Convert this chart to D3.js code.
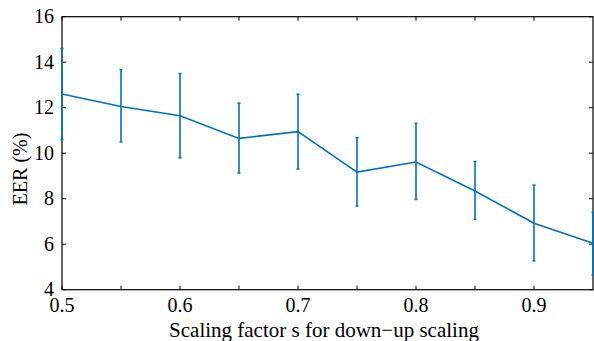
<!DOCTYPE html>
<html>
<head>
<meta charset="utf-8">
<script src="https://cdn.jsdelivr.net/npm/d3@7"></script>
<style>
  body { margin: 0; background: #fff; }
  text { font-family: "Liberation Serif", "Times New Roman", serif; fill: #000; }
</style>
</head>
<body>
<svg id="chart" width="594" height="341"></svg>
<script>
// data
var scales = [0.5, 0.55, 0.6, 0.65, 0.7, 0.75, 0.8, 0.85, 0.9, 0.95];
var eer    = [12.6, 12.05, 11.65, 10.65, 10.95, 9.17, 9.61, 8.34, 6.92, 6.04];
var eerLo  = [10.6, 10.5, 9.8, 9.13, 9.31, 7.68, 7.97, 7.09, 5.27, 4.65];
var eerHi  = [14.6, 13.67, 13.5, 12.2, 12.59, 10.68, 11.31, 9.63, 8.6, 7.4];
var xTicks = [0.5, 0.6, 0.7, 0.8, 0.9];
var xMinor = [0.55, 0.65, 0.75, 0.85];
var yTicks = [4, 6, 8, 10, 12, 14, 16];

var svg = d3.select('#chart');
var pLeft = 62, pRight = 593, pTop = 16.7, pBottom = 289.7;
var blue = '#0072BD';

var x = d3.scaleLinear().domain([0.5, 0.95]).range([pLeft, pRight]);
var y = d3.scaleLinear().domain([4, 16]).range([pBottom, pTop]);

// box
svg.append('rect')
  .attr('x', pLeft).attr('y', pTop)
  .attr('width', pRight - pLeft).attr('height', pBottom - pTop)
  .style('fill', 'none').attr('stroke', '#000').attr('stroke-width', 1.2);

// ticks (inward, all four sides)
var allX = xTicks.concat(xMinor);
var tl = 4;
svg.selectAll('.xtb').data(allX).enter().append('line')
  .attr('x1', function(d){ return x(d); }).attr('x2', function(d){ return x(d); })
  .attr('y1', pBottom).attr('y2', pBottom - tl)
  .attr('stroke', '#000').attr('stroke-width', 1);
svg.selectAll('.xtt').data(allX).enter().append('line')
  .attr('x1', function(d){ return x(d); }).attr('x2', function(d){ return x(d); })
  .attr('y1', pTop).attr('y2', pTop + tl)
  .attr('stroke', '#000').attr('stroke-width', 1);
svg.selectAll('.ytl').data(yTicks).enter().append('line')
  .attr('x1', pLeft).attr('x2', pLeft + tl)
  .attr('y1', function(d){ return y(d); }).attr('y2', function(d){ return y(d); })
  .attr('stroke', '#000').attr('stroke-width', 1);
svg.selectAll('.ytr').data(yTicks).enter().append('line')
  .attr('x1', pRight).attr('x2', pRight - tl)
  .attr('y1', function(d){ return y(d); }).attr('y2', function(d){ return y(d); })
  .attr('stroke', '#000').attr('stroke-width', 1);

// tick labels
svg.selectAll('.xl').data(xTicks).enter().append('text')
  .attr('x', function(d){ return x(d); })
  .attr('y', 312)
  .style('text-anchor', 'middle')
  .style('font-size', '20px')
  .text(function(d){ return d3.format('.1f')(d); });
svg.selectAll('.yl').data(yTicks).enter().append('text')
  .attr('x', 54)
  .attr('y', function(d){ return y(d) + 6.5; })
  .style('text-anchor', 'end')
  .style('font-size', '20px')
  .text(function(d){ return d; });

// axis titles
svg.append('text')
  .attr('x', 324).attr('y', 337)
  .style('text-anchor', 'middle')
  .style('font-size', '21px')
  .text('Scaling factor s for down\u2212up scaling');
svg.append('text')
  .attr('transform', 'translate(27,169) rotate(-90)')
  .style('text-anchor', 'middle')
  .style('font-size', '20px')
  .text('EER (%)');

// error bars
var idx = d3.range(scales.length);
svg.selectAll('.eb').data(idx).enter().append('line')
  .attr('x1', function(i){ return x(scales[i]); }).attr('x2', function(i){ return x(scales[i]); })
  .attr('y1', function(i){ return y(eerLo[i]); }).attr('y2', function(i){ return y(eerHi[i]); })
  .attr('stroke', blue).attr('stroke-width', 1.6);
[eerLo, eerHi].forEach(function(arr) {
  svg.selectAll(null).data(idx).enter().append('line')
    .attr('x1', function(i){ return x(scales[i]) - 1.5; }).attr('x2', function(i){ return x(scales[i]) + 1.5; })
    .attr('y1', function(i){ return y(arr[i]); }).attr('y2', function(i){ return y(arr[i]); })
    .attr('stroke', blue).attr('stroke-width', 1.6);
});

// mean line
var line = d3.line()
  .x(function(i){ return x(scales[i]); })
  .y(function(i){ return y(eer[i]); });
svg.append('path')
  .datum(idx)
  .attr('d', line)
  .style('fill', 'none')
  .attr('stroke', blue)
  .attr('stroke-width', 1.6);
</script>
</body>
</html>
